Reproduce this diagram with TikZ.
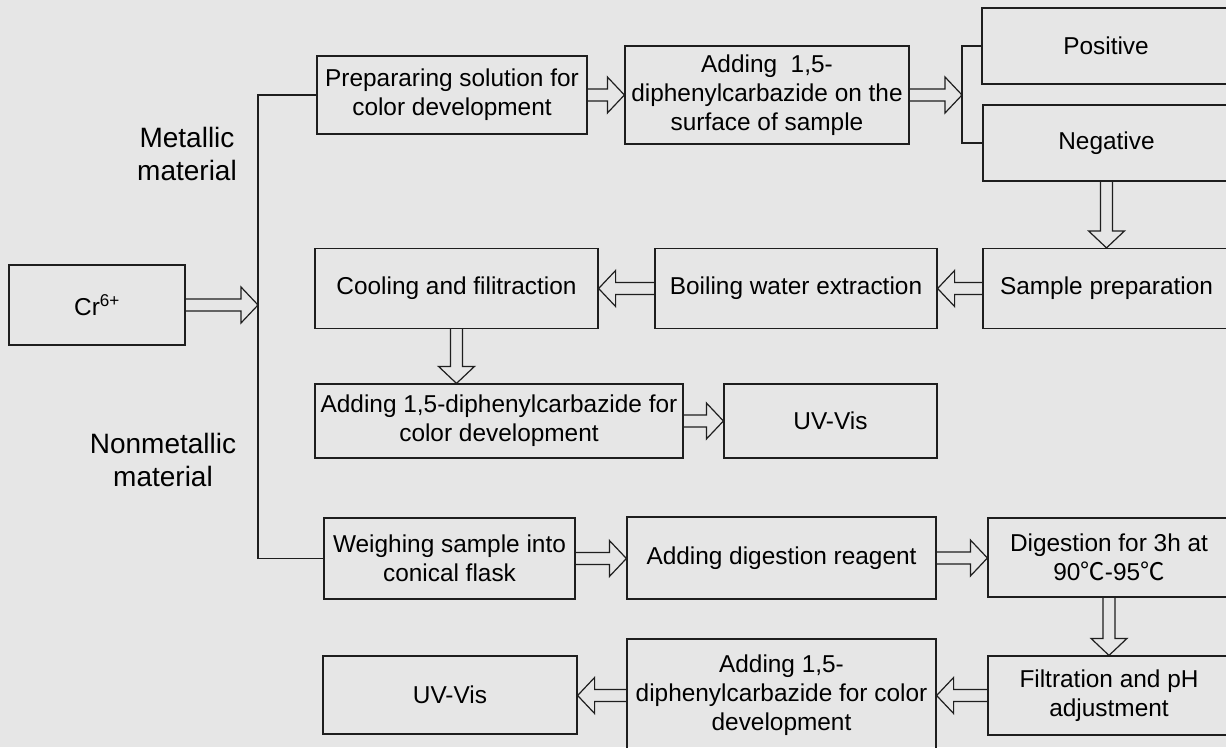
\documentclass[tikz,border=0pt]{standalone}
\usepackage{fontspec}
\setmainfont{Liberation Sans}
\newfontfamily\cjk{Noto Sans CJK SC}
\usetikzlibrary{calc}
\definecolor{bg}{HTML}{E6E6E6}
\definecolor{ln}{HTML}{1E1E1E}
\tikzset{
 box/.style={draw=ln, line width=1.2pt, rectangle, align=center, inner sep=0pt, font=\fontsize{24.4}{29}\selectfont},
 lbl/.style={align=center, inner sep=0pt, font=\fontsize{28}{33}\selectfont},
 wire/.style={draw=ln, line width=1.2pt},
 barrow/.style={draw=ln, line width=1.2pt, line join=miter, to path={let \p1=(\tikztostart), \p2=(\tikztotarget), \n1={atan2(\y2-\y1,\x2-\x1)}, \n2={veclen(\x2-\x1,\y2-\y1)-17pt} in ($(\p1)+(\n1+90:6pt)$) -- ($(\p1)+(\n1:\n2)+(\n1+90:6pt)$) -- ($(\p1)+(\n1:\n2)+(\n1+90:18pt)$) -- (\p2) -- ($(\p1)+(\n1:\n2)+(\n1-90:18pt)$) -- ($(\p1)+(\n1:\n2)+(\n1-90:6pt)$) -- ($(\p1)+(\n1-90:6pt)$)}}
}
\begin{document}
\begin{tikzpicture}[x=1pt,y=-1pt]
\useasboundingbox (0,0) rectangle (1226,747);
\clip (0,0) rectangle (1226,747);
\fill[bg] (0,0) rectangle (1226,747);

\node[box, minimum width=176pt, minimum height=80pt] (cr) at (97,305) {Cr\textsuperscript{6+}};
\node[box, minimum width=270pt, minimum height=78pt] (b1) at (452,95) {Prepararing solution for\\color development};
\node[box, minimum width=284pt, minimum height=98pt] (b2) at (767,95) {Adding\ \ 1,5-\\diphenylcarbazide on the\\surface of sample};
\node[box, minimum width=248pt, minimum height=76pt] (pos) at (1106,46) {Positive};
\node[box, minimum width=247pt, minimum height=76pt] (neg) at (1106.5,143) {Negative};
\node[box, minimum width=247pt, minimum height=80pt] (samp) at (1106.5,288.5) {Sample preparation};
\node[box, minimum width=282pt, minimum height=80pt] (boil) at (796,288.5) {Boiling water extraction};
\node[box, minimum width=283pt, minimum height=80pt] (cool) at (456.5,288.5) {Cooling and filitraction};
\node[box, minimum width=368pt, minimum height=74pt] (add1) at (499,421) {Adding 1,5-diphenylcarbazide for\\color development};
\node[box, minimum width=213pt, minimum height=74pt] (uv1) at (830.5,421) {UV-Vis};
\node[box, minimum width=251pt, minimum height=81pt] (weigh) at (449.5,558.5) {Weighing sample into\\conical flask};
\node[box, minimum width=309pt, minimum height=82pt] (dig) at (781.5,558) {Adding digestion reagent};
\node[box, minimum width=242pt, minimum height=79pt] (dig3) at (1109,557.5) {Digestion for 3h at\\90{\cjk ℃}-95{\cjk ℃}};
\node[box, minimum width=242pt, minimum height=79pt] (filt) at (1109,695.5) {Filtration and pH\\adjustment};
\node[box, minimum width=309pt, minimum height=113pt] (add2) at (781.5,695.5) {Adding 1,5-\\diphenylcarbazide for color\\development};
\node[box, minimum width=254pt, minimum height=78pt] (uv2) at (450,695) {UV-Vis};

\node[lbl] (met) at (187,154) {Metallic\\material};
\node[lbl] (nonmet) at (163,460) {Nonmetallic\\material};

\coordinate (trunk) at (258,0);
\coordinate (br) at (962,0);

\draw[wire] (b1.west) -- (b1.west -| trunk) -- (weigh.west -| trunk) -- (weigh.west);
\draw[wire] (pos.west) -- (pos.west -| br) -- (neg.west -| br) -- (neg.west);

\draw[barrow] (cr.east) to (cr.east -| trunk);
\draw[barrow] (b1.east) to (b2.west);
\draw[barrow] (b2.east) to (b2.east -| br);
\draw[barrow] (neg.south) to (neg.south |- samp.north);
\draw[barrow] (samp.west) to (boil.east);
\draw[barrow] (boil.west) to (cool.east);
\draw[barrow] (cool.south) to (cool.south |- add1.north);
\draw[barrow] (add1.east) to (uv1.west);
\draw[barrow] (weigh.east) to (weigh.east -| dig.west);
\draw[barrow] (dig.east) to (dig.east -| dig3.west);
\draw[barrow] (dig3.south) to (dig3.south |- filt.north);
\draw[barrow] (filt.west) to (filt.west -| add2.east);
\draw[barrow] (add2.west) to (add2.west -| uv2.east);
\end{tikzpicture}
\end{document}
